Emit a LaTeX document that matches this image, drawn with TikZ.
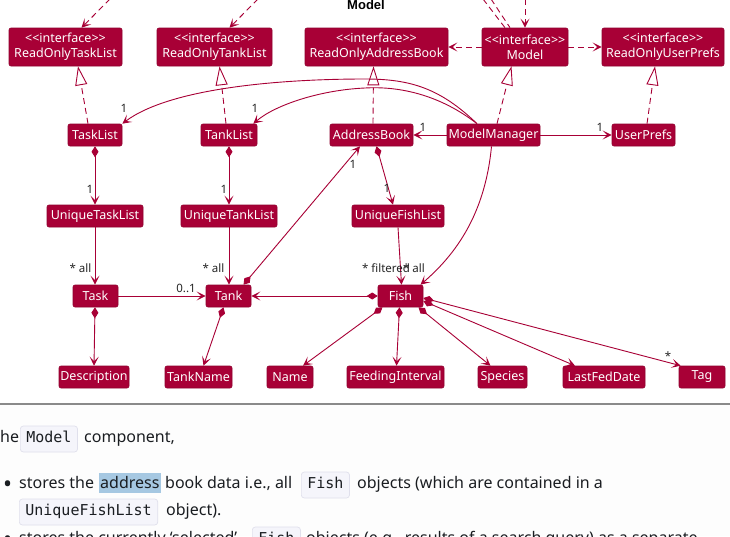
\documentclass[tikz,border=0pt]{standalone}
\usepackage{fontspec}
\setmainfont{Noto Sans}
\newfontfamily\codefont{DejaVu Sans Mono}
\newfontfamily\titlefont{Liberation Sans}
\usetikzlibrary{arrows.meta,calc}
\definecolor{umlred}{HTML}{A80036}
\definecolor{codebg}{HTML}{F5F5FB}
\definecolor{codeborder}{HTML}{E0E0EC}
\definecolor{hilite}{HTML}{A6C8E2}
\definecolor{pagebg}{HTML}{FDFDFD}
\definecolor{rulegray}{HTML}{8A8A8A}
\definecolor{txt}{HTML}{1A1D21}
\begin{document}
\begin{tikzpicture}[x=1pt,y=-1pt,
 cls/.style={fill=umlred, draw=umlred!85!black, line width=0.6pt, rounded corners=2pt, text=white,
   font=\fontsize{12.5}{15}\selectfont, inner sep=0pt, minimum height=22pt, align=center},
 iface/.style={cls, minimum height=38pt},
 link/.style={draw=umlred, line width=0.9pt},
 assoc/.style={link, arrows={-Stealth[length=9pt,width=9pt,inset=4.5pt]}},
 dep/.style={assoc, dash pattern=on 6pt off 4pt},
 plaindash/.style={link, dash pattern=on 6pt off 4pt},
 real/.style={link, dash pattern=on 6pt off 4pt, arrows={-Triangle[open,fill=white,length=19pt,width=12pt]}},
 comp/.style={link, arrows={Diamond[length=11pt,width=7pt]-Stealth[length=9pt,width=9pt,inset=4.5pt]}},
 mult/.style={font=\fontsize{11.5}{12}\selectfont, text=black!85, inner sep=0pt},
 body/.style={font=\fontsize{16}{19}\selectfont, text=txt, inner sep=0pt, anchor=base west},
 bullet/.style={font=\fontsize{24}{24}\selectfont, text=txt, inner sep=0pt, anchor=base west},
 code/.style={font=\codefont\fontsize{15}{17}\selectfont, text=txt, fill=codebg, draw=codeborder,
   line width=0.7pt, rounded corners=3pt, inner xsep=6pt, inner ysep=6pt, text height=10pt, text depth=4pt, anchor=base west}
]
\useasboundingbox (0,0) rectangle (730,536);
\clip (0,0) rectangle (730,536);
\fill[white] (0,0) rectangle (730,405);

% title
\node[font=\titlefont\bfseries\fontsize{13}{14}\selectfont, anchor=base, inner sep=0pt] (title) at (366,9) {Model};

% interfaces
\node[iface, minimum width=113pt] (rotl) at (65.5,47) {<{}<interface>{}>\\ReadOnlyTaskList};
\node[iface, minimum width=115pt] (rotkl) at (214.5,47) {<{}<interface>{}>\\ReadOnlyTankList};
\node[iface, minimum width=143pt] (roab) at (376.5,47) {<{}<interface>{}>\\ReadOnlyAddressBook};
\node[iface, minimum width=86pt] (model) at (525,47) {<{}<interface>{}>\\Model};
\node[iface, minimum width=122pt] (roup) at (663,47) {<{}<interface>{}>\\ReadOnlyUserPrefs};

% row 2
\node[cls, minimum width=54pt] (tasklist) at (95,135) {TaskList};
\node[cls, minimum width=56pt] (tanklist) at (229,135) {TankList};
\node[cls, minimum width=83pt] (ab) at (371.5,135) {AddressBook};
\node[cls, minimum width=93pt] (mm) at (493.5,135) {ModelManager};
\node[cls, minimum width=63pt] (up) at (643.5,135) {UserPrefs};

% row 3
\node[cls, minimum width=96pt] (utl) at (95,216) {UniqueTaskList};
\node[cls, minimum width=96pt] (utkl) at (229,216) {UniqueTankList};
\node[cls, minimum width=92pt] (ufl) at (398,216) {UniqueFishList};

% row 4
\node[cls, minimum width=45pt] (task) at (95.5,296) {Task};
\node[cls, minimum width=45pt] (tank) at (228.5,296) {Tank};
\node[cls, minimum width=45pt] (fish) at (400.5,296) {Fish};

% row 5
\node[cls, minimum width=70pt] (desc) at (94,377) {Description};
\node[cls, minimum width=67pt] (tname) at (198.5,377) {TankName};
\node[cls, minimum width=46pt] (name) at (290,377) {Name};
\node[cls, minimum width=97pt] (fi) at (395.5,377) {FeedingInterval};
\node[cls, minimum width=49pt] (species) at (502.5,377) {Species};
\node[cls, minimum width=82pt] (lfd) at (604,377) {LastFedDate};
\node[cls, minimum width=46pt] (tag) at (702,377) {Tag};

% incoming from above
\coordinate (in1) at (110,-1);
\coordinate (in2) at (258,-1);
\coordinate (in3) at (525,-1);
\coordinate (in4) at (483,-1);
\coordinate (in5) at (491,-1);
\draw[dep] (in1) -- ([xshift=16pt]rotl.north);
\draw[dep] (in2) -- ([xshift=15pt]rotkl.north);
\draw[dep] (in3) -- (model.north);
\draw[plaindash] (in4) -- ([xshift=-20pt]model.north);
\draw[plaindash] (in5) -- ([xshift=-15pt]model.north);

% interface dependencies
\draw[dep] (model.west) -- (roab.east);
\draw[dep] (model.east) -- (roup.west);

% realizations
\draw[real] ([xshift=-7pt]tasklist.north) -- ([xshift=12.5pt]rotl.south);
\draw[real] ([xshift=-3pt]tanklist.north) -- ([xshift=5pt]rotkl.south);
\draw[real] ([xshift=1.5pt]ab.north) -- ([xshift=-3pt]roab.south);
\draw[real] ([xshift=3.5pt]mm.north) -- ([xshift=-13.5pt]model.south);
\draw[real] ([xshift=3.5pt]up.north) -- ([xshift=-8pt]roup.south);

% ModelManager associations
\draw[assoc] ([xshift=-16.5pt]mm.north) .. controls (440,88) and (410,79) .. (365,79) .. controls (280,79) and (170,88) .. (tasklist.north east);
\draw[assoc] ([xshift=-16.5pt]mm.north) .. controls (440,95) and (400,86) .. (365,88) .. controls (320,90) and (275,105) .. ([xshift=-4pt]tanklist.north east);
\draw[assoc] (mm.west) -- (ab.east);
\draw[assoc] (mm.east) -- (up.west);
\draw[assoc] ([xshift=-2pt]mm.south) .. controls (485,215) and (455,255) .. ([xshift=20pt]fish.north);

% compositions to unique lists
\draw[comp] (tasklist.south) -- (utl.north);
\draw[comp] (tanklist.south) -- (utkl.north);
\draw[comp] ([xshift=5pt]ab.south) -- ([xshift=-5pt]ufl.north);

% lists to elements
\draw[assoc] (utl.south) -- ([xshift=-0.5pt]task.north);
\draw[assoc] (utkl.south) -- ([xshift=0.5pt]tank.north);
\draw[assoc] (ufl.south) -- ([xshift=1pt]fish.north);

% row 4 links
\draw[assoc] (task.east) -- (tank.west);
\draw[comp] (fish.west) -- (tank.east);
\draw[comp] ([xshift=15pt]tank.north) -- ([xshift=-11.5pt]ab.south);

% attributes
\draw[comp] ([xshift=-0.5pt]task.south) -- (desc.north);
\draw[comp] ([xshift=-5pt]tank.south) -- ([xshift=5pt]tname.north);
\draw[comp] ([xshift=-18pt]fish.south) -- ([xshift=13pt]name.north);
\draw[comp] ([xshift=-1pt]fish.south) -- ([xshift=1pt]fi.north);
\draw[comp] ([xshift=18pt]fish.south) -- ([xshift=-12pt]species.north);
\draw[comp] ([yshift=-5pt]fish.east) -- ([xshift=-29pt]lfd.north);
\draw[comp] ([yshift=-2pt]fish.east) -- ([xshift=2pt]tag.north west);

% multiplicities
\node[mult] (m1) at (124,108) {1};
\node[mult] (m2) at (255,108) {1};
\node[mult] (m3) at (423,127) {1};
\node[mult] (m4) at (600,127) {1};
\node[mult] (m5) at (90,189) {1};
\node[mult] (m6) at (224,189) {1};
\node[mult] (m7) at (387,188) {1};
\node[mult] (m8) at (80.5,268) {* all};
\node[mult] (m9) at (213.5,268) {* all};
\node[mult] (m10) at (386,268) {* filtered};
\node[mult] (m11) at (414,268) {* all};
\node[mult] (m12) at (186,288) {0..1};
\node[mult] (m13) at (353,164) {1};
\node[mult] (m14) at (668,356) {*};

% page text below
\fill[pagebg] (0,405) rectangle (730,536);
\draw[rulegray, line width=1.5pt] (0,404) -- (730,404);

\node[body] (l1a) at (0,442) {he};
\node[code] (l1b) at (20,442) {Model};
\node[body] (l1c) at (84,442) {component,};

\node[bullet] (b1) at (3,492) {•};
\fill[hilite] (99,473) rectangle (161,493);
\node[body] (l2a) at (19,488) {stores the};
\node[body] (l2b) at (100,488) {address};
\node[body] (l2c) at (165,488) {book data i.e., all};
\node[code] (l2d) at (301,488) {Fish};
\node[body] (l2e) at (357,488) {objects (which are contained in a};

\node[code] (l3a) at (19,515) {UniqueFishList};
\node[body] (l3b) at (166,515) {object).};

\node[bullet] (b2) at (3,547) {•};
\node[body] (l4a) at (19,543) {stores the currently `selected'};
\node[code] (l4b) at (252,543) {Fish};
\node[body] (l4c) at (306,543) {objects (e.g., results of a search query) as a separate};
\end{tikzpicture}
\end{document}
